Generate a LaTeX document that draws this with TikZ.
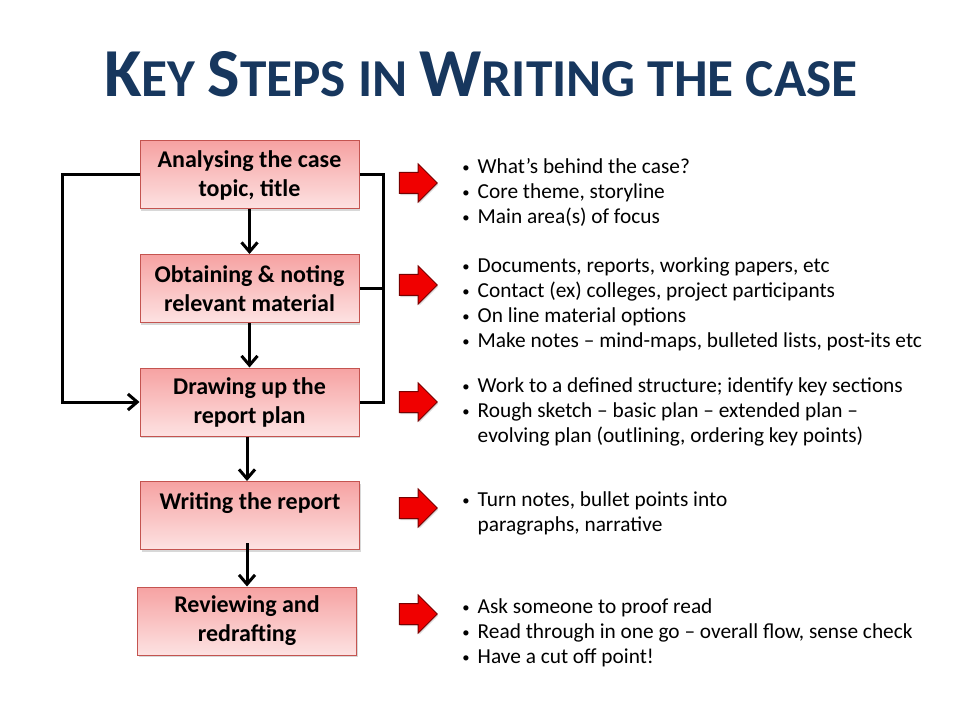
\documentclass[tikz,border=0pt]{standalone}
\usepackage{fontspec}
\setmainfont{Carlito}
\usetikzlibrary{shapes.arrows,shadows,arrows.meta}
\definecolor{titleblue}{RGB}{23,55,94}
\definecolor{boxtop}{RGB}{246,162,162}
\definecolor{boxbot}{RGB}{253,226,226}
\definecolor{boxline}{RGB}{196,84,80}
\definecolor{arrred}{RGB}{240,0,0}
\definecolor{arrline}{RGB}{120,0,0}
\newcommand\bul{\strut\makebox[11.6pt][l]{\raisebox{1.2pt}{\fontsize{11}{11}\selectfont\textbullet}}}
\newcommand\hang{\strut\hspace*{11.6pt}}
\newcommand\titlecap[1]{{\fontsize{51.5}{60}\selectfont #1}}
\begin{document}
\begin{tikzpicture}[x=0.75pt,y=-0.75pt,
  stepbox/.style={rectangle, draw=boxline, line width=0.75pt, top color=boxtop, bottom color=boxbot,
    minimum width=164.25pt, minimum height=51pt, align=center,
    font=\fontsize{18}{21.75}\selectfont\bfseries, inner sep=0pt,
    drop shadow={shadow xshift=0.8pt, shadow yshift=-1.8pt, opacity=0.3}},
  redarrow/.style={single arrow, draw=arrline, line width=0.75pt, fill=arrred,
    minimum height=28.5pt, single arrow head extend=6.4pt, inner xsep=0pt, inner ysep=7.5pt,
    drop shadow={shadow xshift=0.8pt, shadow yshift=-1.2pt, opacity=0.3}},
  flow/.style={line width=2.25pt, -{Straight Barb[length=7pt,width=12pt]}},
  loopline/.style={line width=2.25pt},
  listtext/.style={align=left, anchor=north west, inner sep=0pt, font=\fontsize{16}{18.75}\selectfont},
  titletext/.style={text=titleblue, font=\fontsize{40}{50}\selectfont\bfseries, anchor=base, inner sep=0pt}
]
\fill[white] (0,0) rectangle (960,720);
\useasboundingbox (0,0) rectangle (960,720);

% title
\node[titletext] (title) at (481,97) {\titlecap{K}EY \titlecap{S}TEPS IN \titlecap{W}RITING THE CASE};

% step boxes
\node[stepbox] (b1) at (249.5,175) {Analysing the case\\topic, title};
\node[stepbox] (b2) at (249.5,288.5) {Obtaining \& noting\\relevant material};
\node[stepbox] (b3) at (249.5,402) {Drawing up the\\report plan};
\node[stepbox] (b4) at (250,515.5) {Writing the report\\\mbox{}};
\node[stepbox] (b5) at (247,621) {Reviewing and\\redrafting};

% flow connectors
\draw[flow] (b1) -- (b2);
\draw[flow] (b2) -- (b3);
\draw[flow] (b3.south -| b5.center) -- (b4.north -| b5.center);
\draw[flow] ([yshift=5.25pt]b4.south -| b5.center) -- (b5.north);

% left loop
\draw[flow] (b1.west) -- ++(-77,0) |- (b3.west);

% right loop
\coordinate (rc) at (383,175);
\draw[loopline] (b1.east) -- (rc) |- (b3.east);
\draw[loopline] (b2.east) -- (b2.east -| rc);

% red block arrows
\node[redarrow] (a1) at (413,183) {};
\node[redarrow] (a2) at (413,285) {};
\node[redarrow] (a3) at (413,402) {};
\node[redarrow] (a4) at (413,508) {};
\node[redarrow] (a5) at (413,614) {};

% lists
\node[listtext] (t1) at (462,156) {\bul What’s behind the case?\\\bul Core theme, storyline\\\bul Main area(s) of focus};
\node[listtext] (t2) at (462,255) {\bul Documents, reports, working papers, etc\\\bul Contact (ex) colleges, project participants\\\bul On line material options\\\bul Make notes – mind-maps, bulleted lists, post-its etc};
\node[listtext] (t3) at (462,375) {\bul Work to a defined structure; identify key sections\\\bul Rough sketch – basic plan – extended plan –\\\hang evolving plan (outlining, ordering key points)};
\node[listtext] (t4) at (462,489) {\bul Turn notes, bullet points into\\\hang paragraphs, narrative};
\node[listtext] (t5) at (462,596) {\bul Ask someone to proof read\\\bul Read through in one go – overall flow, sense check\\\bul Have a cut off point!};
\end{tikzpicture}
\end{document}
